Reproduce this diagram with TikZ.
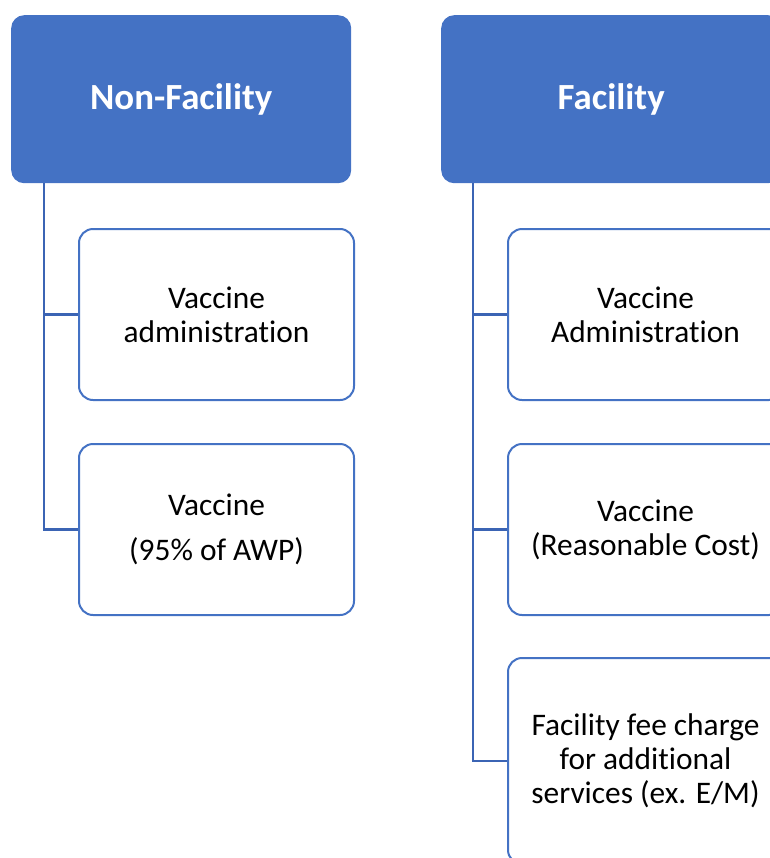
\documentclass[tikz,border=0pt]{standalone}
\usepackage{fontspec}
\setmainfont{Carlito}[Ligatures=NoCommon]
\usetikzlibrary{calc}
\definecolor{hdrblue}{HTML}{4472C4}
\definecolor{linkblue}{HTML}{3B64B4}
\begin{document}
\begin{tikzpicture}[x=1bp,y=-1bp,
  header/.style={fill=hdrblue,draw=none,rounded corners=13bp,minimum width=340bp,minimum height=168bp,
    text=white,font=\fontsize{37}{42}\selectfont\bfseries,anchor=north west,inner sep=0pt},
  child/.style={draw=hdrblue,line width=2bp,fill=white,rounded corners=14bp,minimum width=275bp,
    anchor=north west,align=center,inner sep=0pt,font=\fontsize{31.5}{34}\selectfont},
  link/.style={draw=linkblue,line width=2.4bp}]
\useasboundingbox (0,0) rectangle (770,858);
\begin{scope}
\clip (0,0) rectangle (770,858);
\node[header] (hL) at (11,15) {Non-Facility};
\node[header] (hR) at (441,15) {Facility};
\coordinate (vL) at ($(hL.south west)+(33,0)$);
\coordinate (vR) at ($(hR.south west)+(32,0)$);
\node[child,minimum height=171bp] (cL1) at (78,228) {Vaccine\\administration};
\node[child,minimum height=171bp,font=\fontsize{31.5}{45}\selectfont] (cL2) at (78,443) {Vaccine\\(95\% of AWP)};
\node[child,minimum height=171bp] (cR1) at (507,228) {Vaccine\\Administration};
\node[child,minimum height=171bp] (cR2) at (507,443) {Vaccine\\(Reasonable Cost)};
\node[child,minimum height=206bp] (cR3) at (507,657) {Facility fee charge\\for additional\\services (ex. E/M)};
\draw[link] (vL) |- (cL1.west);
\draw[link] (vL) |- (cL2.west);
\draw[link] (vR) |- (cR1.west);
\draw[link] (vR) |- (cR2.west);
\draw[link] (vR) |- (cR3.west);
\end{scope}
\end{tikzpicture}
\end{document}
